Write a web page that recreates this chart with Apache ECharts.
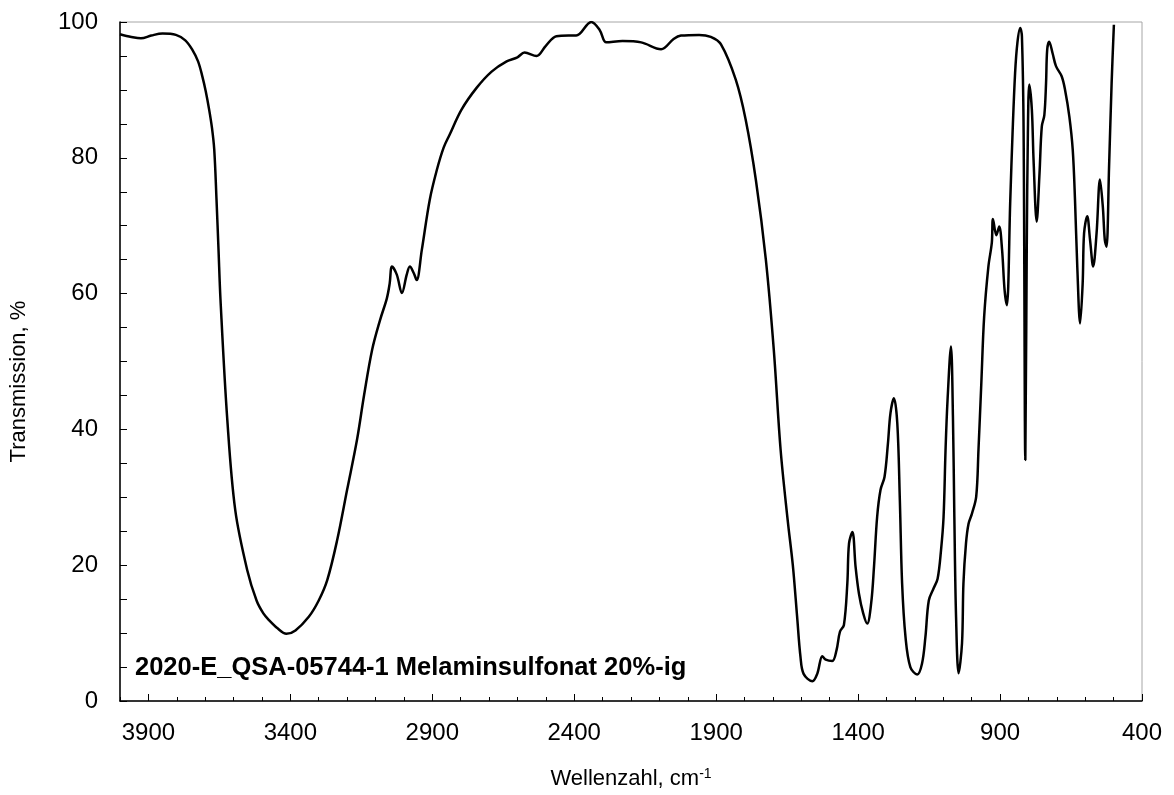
<!DOCTYPE html>
<html>
<head>
<meta charset="utf-8">
<script src="https://cdn.jsdelivr.net/npm/echarts@6/dist/echarts.min.js"></script>
<style>
    html, body { margin: 0; padding: 0; background: #fff; }
    #chart { width: 1174px; height: 795px; }
</style>
</head>
<body>
<div id="chart"></div>
<script>
    /*----------  data  ----------*/
    var wavenumbers = [
        4000, 3960, 3926, 3890, 3850, 3803, 3770, 3745, 3725, 3710, 3698, 3686, 3676, 3668, 3660, 3653, 3646, 3622, 3594, 3552, 3519, 3495, 3475,
        3445, 3414, 3382, 3335, 3300, 3270, 3235, 3200, 3165, 3140, 3112, 3084, 3060, 3050, 3042, 3025, 3007, 2990, 2979, 2965, 2955,
        2937, 2909, 2884, 2860, 2839, 2797, 2744, 2691, 2638, 2600, 2575, 2533, 2500, 2463, 2420, 2393, 2340, 2310, 2287, 2230,
        2164, 2094, 2050, 2024, 1960, 1919, 1883, 1831, 1796, 1760, 1725, 1697, 1673, 1648, 1630, 1615, 1603, 1592, 1561, 1544,
        1526, 1514, 1491, 1476, 1464, 1450, 1438, 1432, 1420, 1409, 1397, 1382, 1368, 1354, 1344, 1333, 1321, 1307, 1295, 1286,
        1274, 1262, 1253, 1245, 1233, 1216, 1192, 1175, 1163, 1151, 1134, 1120, 1108, 1099, 1092, 1085, 1073, 1066, 1061, 1055,
        1046, 1034, 1029, 1020, 1011, 999, 984, 976, 966, 956, 941, 929, 925, 913, 903, 893, 884, 876, 864, 856,
        847, 839, 829, 823, 817, 811, 806, 802, 797, 788, 782, 771, 761, 753, 744, 738, 734, 727, 715, 703,
        683, 671, 656, 644, 636, 628, 618, 609, 604, 593, 583, 572, 560, 548, 538, 531, 525, 516, 507, 499
    ];
    var transmission = [
        98.2, 97.8, 97.6, 98.0, 98.3, 98.1, 97.3, 95.9, 94.2, 92.0, 89.8, 87.1, 84.4, 81.2, 73.8, 66.5, 59.1, 41.4, 28.1, 19.3, 14.8, 12.9, 11.9,
        10.7, 9.9, 10.4, 12.4, 14.8, 17.8, 23.7, 31.1, 38.5, 45.1, 51.7, 56.1, 59.3, 61.5, 64.0, 62.8, 60.1, 62.8, 64.0, 63.0, 62.0,
        66.4, 73.8, 78.2, 81.5, 83.4, 87.1, 90.3, 92.7, 94.2, 94.8, 95.5, 95.0, 96.5, 97.9, 98.0, 98.0, 100, 98.8, 97.0, 97.2,
        97.0, 96.0, 97.5, 98.0, 98.1, 97.8, 96.7, 91.5, 85.6, 76.7, 65.0, 51.7, 37.0, 26.6, 20.0, 12.5, 6.5, 4.0, 2.9, 4.0,
        6.6, 6.1, 5.9, 7.5, 10.2, 11.2, 17.3, 23.2, 24.9, 19.8, 15.8, 12.9, 11.4, 14.4, 19.8, 27.1, 31.1, 33.0, 37.9, 42.4,
        44.6, 40.9, 29.6, 17.3, 9.4, 5.0, 3.9, 5.5, 9.4, 14.8, 16.6, 18.0, 22.2, 27.1, 37.0, 44.3, 52.2, 41.9, 27.1, 12.4,
        4.1, 8.5, 17.3, 23.2, 26.1, 27.6, 30.1, 37.0, 46.8, 56.6, 64.0, 67.5, 71.0, 68.6, 69.9, 66.5, 60.5, 58.3, 73.8, 83.6,
        92.5, 96.9, 99.1, 97.9, 83.6, 35.5, 66.4, 83.6, 90.8, 87.1, 79.7, 70.6, 77.7, 84.6, 86.3, 91.0, 95.9, 97.1, 95.4, 93.5,
        92.0, 90.0, 86.1, 81.2, 73.8, 64.0, 55.6, 61.5, 68.9, 71.4, 67.9, 64.0, 68.9, 76.8, 72.8, 67.9, 66.9, 78.7, 91.0, 99.6
    ];
    var xLabelValues = [3900, 3400, 2900, 2400, 1900, 1400, 900, 400];
    var sampleName = '2020-E_QSA-05744-1 Melaminsulfonat 20%-ig';

    var points = wavenumbers.map(function (w, i) { return [w, transmission[i]]; });

    var font = '"Liberation Sans", Arial, sans-serif';
    var plain = function (v) { return String(v); };

    var chart = echarts.init(document.getElementById('chart'));
    var option = {
        animation: false,
        title: {
            text: sampleName,
            left: 135,
            top: 655,
            padding: 0,
            textStyle: { fontFamily: font, fontSize: 25.5, fontWeight: 'bold', color: '#000' }
        },
        grid: {
            left: 117, right: 32, top: 22, bottom: 94,
            show: true, borderColor: '#a6a6a6', borderWidth: 1
        },
        xAxis: [{
            type: 'value',
            inverse: true,
            min: 400,
            max: 4000,
            interval: 100,
            splitLine: { show: false },
            axisLine: { lineStyle: { color: '#000', width: 1.5 } },
            axisTick: { inside: true, length: 4, lineStyle: { color: '#000' } },
            axisLabel: {
                customValues: xLabelValues,
                formatter: plain,
                margin: 20,
                fontFamily: font, fontSize: 24, color: '#000'
            },
            name: 'Wellenzahl, cm{sup|-1}',
            nameLocation: 'middle',
            nameGap: 66,
            nameTextStyle: {
                fontFamily: font, fontSize: 22, color: '#000',
                rich: { sup: { fontFamily: font, fontSize: 14, color: '#000', verticalAlign: 'top', padding: [0, 0, 10, 0] } }
            }
        }, {
            type: 'value',
            inverse: true,
            min: 400,
            max: 4000,
            position: 'bottom',
            splitLine: { show: false },
            axisLine: { show: false },
            axisTick: { inside: true, length: 7, customValues: xLabelValues, lineStyle: { color: '#000' } },
            axisLabel: { show: false }
        }],
        yAxis: {
            type: 'value',
            min: 0,
            max: 100,
            interval: 20,
            splitLine: { show: false },
            axisLine: { show: true, lineStyle: { color: '#000', width: 1.5 } },
            axisTick: { show: true, inside: true, length: 7, lineStyle: { color: '#000' } },
            minorTick: { show: true, splitNumber: 4, length: 7, lineStyle: { color: '#000' } },
            axisLabel: { margin: 22, formatter: plain, fontFamily: font, fontSize: 24, color: '#000' },
            name: 'Transmission, %',
            nameLocation: 'middle',
            nameGap: 90,
            nameTextStyle: { fontFamily: font, fontSize: 22, color: '#000', padding: [0, 40, 0, 0] }
        },
        series: [{
            type: 'line',
            data: points,
            showSymbol: false,
            smooth: 0.35,
            lineStyle: { color: '#000', width: 2.5 }
        }]
    };
    chart.setOption(option);
</script>
</body>
</html>
